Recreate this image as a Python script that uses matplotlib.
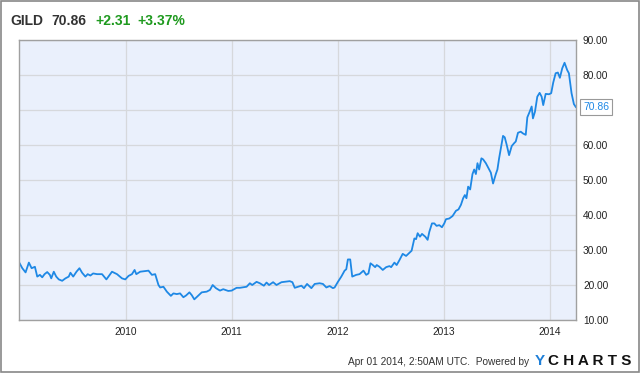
import matplotlib
matplotlib.use("Agg")
import matplotlib.pyplot as plt
from matplotlib.patches import Rectangle

plt.rcParams['font.family'] = ['Liberation Sans', 'DejaVu Sans']

# GILD weekly closes (decimal year, price in USD)
years = [
    2009.001, 2009.026, 2009.057, 2009.088, 2009.114, 2009.145, 2009.167, 2009.192,
    2009.214, 2009.236, 2009.261, 2009.286, 2009.299, 2009.323, 2009.346, 2009.370,
    2009.402, 2009.433, 2009.464, 2009.480, 2009.506, 2009.537, 2009.565, 2009.590,
    2009.621, 2009.643, 2009.668, 2009.694, 2009.731, 2009.778, 2009.819, 2009.850,
    2009.872, 2009.919, 2009.966, 2009.997, 2010.028, 2010.060, 2010.085, 2010.101,
    2010.138, 2010.216, 2010.248, 2010.279, 2010.310, 2010.326, 2010.357, 2010.389,
    2010.427, 2010.451, 2010.483, 2010.514, 2010.545, 2010.570, 2010.602, 2010.624,
    2010.648, 2010.686, 2010.718, 2010.765, 2010.796, 2010.821, 2010.852, 2010.890,
    2010.921, 2010.968, 2011.000, 2011.047, 2011.078, 2011.141, 2011.172, 2011.194,
    2011.235, 2011.266, 2011.304, 2011.329, 2011.353, 2011.391, 2011.423, 2011.470,
    2011.548, 2011.573, 2011.595, 2011.626, 2011.658, 2011.682, 2011.711, 2011.752,
    2011.783, 2011.830, 2011.861, 2011.893, 2011.924, 2011.955, 2011.971, 2012.002,
    2012.034, 2012.065, 2012.081, 2012.096, 2012.118, 2012.137, 2012.175, 2012.206,
    2012.243, 2012.269, 2012.290, 2012.309, 2012.331, 2012.353, 2012.368, 2012.394,
    2012.425, 2012.457, 2012.488, 2012.504, 2012.535, 2012.556, 2012.582, 2012.613,
    2012.645, 2012.676, 2012.697, 2012.723, 2012.739, 2012.754, 2012.776, 2012.795,
    2012.826, 2012.848, 2012.864, 2012.889, 2012.911, 2012.932, 2012.958, 2012.983,
    2013.005, 2013.021, 2013.052, 2013.083, 2013.115, 2013.139, 2013.162, 2013.183,
    2013.199, 2013.214, 2013.230, 2013.249, 2013.271, 2013.287, 2013.303, 2013.318,
    2013.334, 2013.355, 2013.371, 2013.397, 2013.428, 2013.444, 2013.465, 2013.491,
    2013.506, 2013.522, 2013.538, 2013.559, 2013.575, 2013.594, 2013.616, 2013.641,
    2013.663, 2013.679, 2013.700, 2013.726, 2013.747, 2013.773, 2013.788, 2013.810,
    2013.829, 2013.841, 2013.860, 2013.882, 2013.904, 2013.923, 2013.938, 2013.961,
    2013.992, 2014.013, 2014.032, 2014.055, 2014.076, 2014.095, 2014.117, 2014.139,
    2014.164, 2014.180, 2014.205, 2014.227, 2014.245,
]
prices = [
    26.2, 24.8, 23.6, 26.4, 24.8, 25.2, 22.4, 22.9,
    22.2, 23.1, 23.7, 22.9, 21.9, 23.8, 22.4, 21.6,
    21.2, 21.9, 22.4, 23.5, 22.4, 23.8, 24.8, 23.5,
    22.4, 23.1, 22.7, 23.3, 23.1, 23.1, 21.6, 22.9,
    23.8, 23.1, 21.9, 21.6, 22.6, 23.1, 24.3, 23.1,
    23.8, 24.1, 22.9, 23.1, 20.0, 19.3, 19.5, 18.1,
    16.9, 17.6, 17.4, 17.6, 16.5, 17.0, 17.9, 17.1,
    15.9, 17.0, 17.9, 18.1, 18.6, 20.0, 19.1, 18.4,
    18.8, 18.3, 18.4, 19.2, 19.2, 19.5, 20.5, 20.0,
    20.9, 20.5, 19.8, 20.7, 20.0, 20.8, 20.0, 20.8,
    21.1, 20.8, 19.2, 19.5, 19.8, 19.1, 20.3, 19.1,
    20.3, 20.5, 20.3, 19.3, 19.7, 19.1, 19.3, 20.9,
    22.4, 24.1, 24.5, 27.3, 27.3, 22.4, 22.9, 23.1,
    24.1, 22.9, 23.3, 26.2, 25.7, 25.1, 25.7, 25.2,
    24.3, 25.1, 25.4, 25.1, 26.4, 25.7, 27.1, 28.9,
    28.3, 29.2, 29.8, 33.3, 33.1, 34.8, 33.8, 34.6,
    33.8, 32.9, 35.2, 37.6, 37.6, 36.9, 37.1, 36.5,
    37.6, 38.8, 39.0, 39.7, 41.2, 41.6, 42.9, 44.8,
    45.7, 44.8, 48.1, 47.3, 51.7, 53.0, 51.7, 54.8,
    53.0, 56.2, 55.9, 54.8, 53.0, 52.1, 49.0, 51.7,
    53.0, 56.2, 59.0, 62.6, 62.2, 60.0, 57.1, 59.7,
    60.5, 61.0, 63.5, 63.8, 63.3, 62.9, 67.9, 69.5,
    71.0, 67.6, 69.5, 73.8, 74.9, 73.8, 71.4, 74.6,
    74.5, 74.8, 77.8, 80.5, 80.7, 79.2, 81.9, 83.5,
    81.4, 80.5, 74.8, 71.7, 70.86,
]
year_ticks = [2010, 2011, 2012, 2013, 2014]
price_ticks = [10, 20, 30, 40, 50, 60, 70, 80, 90]

ticker = "GILD"
last = "70.86"
change = "+2.31"
change_pct = "+3.37%"

fig = plt.figure(figsize=(6.4, 3.73), dpi=100)
fig.patch.set_facecolor('white')

# thin gray frame around the whole picture
fig.patches.append(Rectangle((0.001, 0.002), 0.998, 0.996, transform=fig.transFigure,
                             fill=False, ec='#888888', lw=1.2))

ax = fig.add_axes([19/640, 1 - 320/373, (576 - 19)/640, (320 - 40)/373])
ax.set_facecolor('#eaf0fc')
ax.plot(years, prices, color='#1e88e5', lw=1.3, solid_joinstyle='round')

ax.set_xlim(2008.995, 2014.247)
ax.set_ylim(10, 90)
ax.set_xticks(year_ticks)
ax.set_xticklabels([str(y) for y in year_ticks])
ax.set_yticks(price_ticks)
# the last-price flag sits where the 70.00 label would be
ax.set_yticklabels(['' if p == 70 else '%.2f' % p for p in price_ticks])
ax.yaxis.tick_right()
ax.tick_params(length=0, labelsize=7.3, colors='#222222')
ax.tick_params(axis='y', pad=5)
ax.tick_params(axis='x', pad=5)
ax.grid(True, color='#d6d8dc', lw=0.9)
ax.set_axisbelow(True)
for s in ax.spines.values():
    s.set_color('#a0a0a0')
    s.set_linewidth(1.0)

# last price flag
ax.annotate(last, xy=(1.0, float(last)), xycoords=('axes fraction', 'data'),
            xytext=(5, 0), textcoords='offset points', va='center', ha='left',
            fontsize=7.5, color='#1e88e5',
            bbox=dict(boxstyle='square,pad=0.25', fc='white', ec='#999999', lw=0.8))

# header
fig.text(10/640, 1 - 25/373, ticker, fontsize=10, fontweight='bold', color='#333333',
         va='baseline')
fig.text(51/640, 1 - 25/373, last, fontsize=10, fontweight='bold', color='#333333',
         va='baseline')
fig.text(95/640, 1 - 25/373, change, fontsize=10, fontweight='bold', color='#1f9a1f',
         va='baseline')
fig.text(137/640, 1 - 25/373, change_pct, fontsize=10, fontweight='bold', color='#1f9a1f',
         va='baseline')

# footer
fig.text(529/640, 1 - 365/373, "Apr 01 2014, 2:50AM UTC.  Powered by", fontsize=7.3,
         color='#333333', ha='right', va='baseline')
fig.text(535/640, 1 - 365/373, "Y", fontsize=11, fontweight='bold', color='#1e7fd8',
         va='baseline')
fig.text(548/640, 1 - 365/373, "C H A R T S", fontsize=11, fontweight='bold',
         color='#111111', va='baseline')

fig.savefig('out.png', dpi=100, facecolor='white')
